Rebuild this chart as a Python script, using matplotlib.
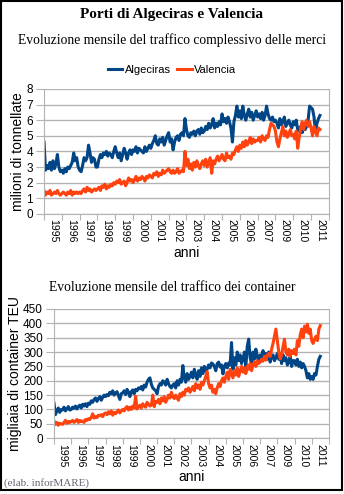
import numpy as np
import matplotlib.pyplot as plt
from matplotlib.patches import Rectangle

# monthly traffic, Jan 1995 onward
alg_tonn = [4.6, 2.8, 3.1, 2.9, 3.3, 2.8, 3.4, 2.9, 3.2, 3.8, 3.0, 2.7,
            2.8, 2.6, 2.9, 2.7, 3.0, 2.9, 3.1, 3.3, 3.9, 3.4, 3.6, 3.0,
            2.8, 2.7, 3.1, 3.6, 3.4, 3.6, 4.4, 3.9, 3.3, 3.6, 3.5, 3.0,
            3.0, 3.5, 3.8, 3.6, 3.9, 3.8, 4.0, 3.7, 3.9, 3.8, 3.6, 4.0,
            4.3, 3.9, 3.6, 3.9, 3.4, 3.8, 4.2, 3.9, 3.5, 3.9, 4.1, 3.8,
            4.1, 4.0, 4.3, 3.9, 4.2, 4.1, 4.0, 3.9, 4.3, 4.0, 4.2, 4.4,
            4.2, 4.5, 4.7, 5.0, 4.5, 4.4, 4.8, 4.6, 4.9, 4.4, 4.7, 5.0,
            5.2, 4.6, 4.8, 4.1, 4.6, 4.9, 5.0, 4.7, 5.1, 5.2, 5.0, 6.1,
            5.4, 5.0, 4.9, 5.2, 5.1, 5.3, 5.0, 5.3, 5.4, 5.1, 5.5, 5.2,
            5.3, 5.6, 5.4, 5.8, 5.5, 5.7, 6.1, 5.5, 5.8, 5.6, 5.9, 5.7,
            6.4, 5.9, 6.1, 5.8, 6.2, 5.9, 5.5, 4.6, 5.9, 6.3, 6.9, 6.2,
            6.6, 6.1, 6.9, 6.3, 6.0, 6.4, 6.7, 6.2, 6.5, 6.0, 6.3, 6.6,
            6.2, 6.4, 6.1, 6.5, 6.0, 6.3, 6.9, 6.4, 6.1, 6.0, 6.2, 5.9,
            6.0, 5.8, 5.5, 6.1, 5.7, 5.9, 6.2, 5.6, 5.8, 6.0, 5.7, 5.5,
            5.9, 5.7, 6.0, 5.4, 5.3, 5.6, 5.2, 5.5, 5.4, 5.6, 6.0, 6.9,
            6.8, 6.7, 6.2, 5.3, 5.8, 6.1, 6.3]

val_tonn = [1.5, 1.2, 1.4, 1.3, 1.5, 1.2, 1.3, 1.4, 1.3, 1.5, 1.3, 1.2,
            1.3, 1.4, 1.3, 1.2, 1.4, 1.3, 1.5, 1.2, 1.4, 1.3, 1.4, 1.3,
            1.4, 1.3, 1.5, 1.6, 1.4, 1.7, 1.5, 1.6, 1.4, 1.5, 1.6, 1.5,
            1.6, 1.7, 1.5, 1.8, 1.7, 1.9, 1.6, 1.8, 1.7, 1.9, 1.8, 2.0,
            1.9, 2.1, 2.0, 2.2, 1.9, 2.0, 2.1, 1.8, 2.0, 2.3, 2.1, 2.2,
            2.0, 2.2, 2.4, 2.1, 2.3, 2.2, 2.4, 2.3, 2.1, 2.4, 2.3, 2.5,
            2.4, 2.3, 2.6, 2.5, 2.7, 2.4, 2.6, 2.5, 2.8, 2.6, 2.7, 2.8,
            2.9, 2.7, 2.6, 2.8, 2.6, 2.7, 2.9, 2.6, 2.7, 2.8, 2.7, 4.0,
            3.1, 3.5, 2.9, 3.2, 2.8, 3.3, 3.0, 3.4, 3.1, 2.9, 3.2, 3.4,
            3.1, 3.5, 3.0, 3.3, 3.6, 2.6, 3.4, 3.2, 3.5, 3.7, 3.4, 3.6,
            3.8, 3.5, 3.4, 3.9, 3.6, 3.7, 3.5, 3.9, 3.8, 4.1, 4.3, 4.0,
            4.4, 4.2, 4.6, 4.3, 4.7, 4.4, 4.6, 4.9, 4.5, 4.8, 4.6, 4.7,
            4.7, 4.9, 4.6, 5.0, 4.8, 4.7, 5.0, 4.9, 5.4, 5.8, 5.7, 5.6,
            5.3, 4.6, 4.3, 4.8, 5.2, 5.6, 5.0, 5.3, 4.9, 5.1, 5.4, 5.0,
            5.1, 4.8, 5.3, 4.2, 4.9, 5.5, 5.9, 5.4, 5.8, 6.0, 5.6, 5.9,
            5.5, 5.0, 5.6, 5.3, 5.0, 5.5, 5.4]

alg_teu = [122, 82, 95, 105, 90, 100, 98, 108, 95, 102, 110, 98,
           100, 108, 104, 112, 102, 110, 115, 105, 118, 112, 120, 110,
           122, 118, 130, 125, 135, 140, 128, 138, 145, 132, 142, 150,
           145, 152, 148, 160, 155, 165, 150, 158, 162, 148, 135, 155,
           158, 165, 152, 170, 160, 145, 162, 168, 155, 170, 165, 175,
           172, 180, 168, 185, 178, 195, 205, 210, 188, 175, 170, 165,
           155, 180, 190, 185, 200, 195, 185, 205, 190, 180, 175, 185,
           190, 175, 200, 185, 205, 195, 253, 210, 195, 225, 205, 215,
           230, 210, 240, 220, 205, 235, 215, 245, 225, 250, 235, 240,
           255, 245, 262, 258, 250, 235, 260, 265, 248, 255, 224, 250,
           260, 245, 262, 255, 333, 240, 280, 255, 300, 270, 290, 260,
           275, 300, 250, 320, 345, 280, 260, 300, 275, 310, 285, 265,
           290, 270, 305, 280, 295, 275, 300, 265, 285, 290, 270, 280,
           295, 275, 285, 260, 290, 270, 280, 255, 265, 285, 250, 270,
           270, 255, 275, 250, 265, 245, 260, 250, 235, 210, 225, 205,
           215, 205, 225, 220, 250, 275, 285]

val_teu = [60, 48, 55, 45, 52, 50, 48, 55, 62, 52, 58, 55,
           58, 62, 55, 60, 65, 55, 62, 58, 60, 55, 65, 62,
           68, 65, 72, 85, 70, 75, 72, 80, 78, 82, 75, 85,
           88, 82, 92, 85, 95, 80, 90, 85, 92, 98, 88, 95,
           100, 95, 105, 110, 98, 108, 100, 112, 105, 146, 102, 110,
           115, 105, 120, 112, 108, 125, 118, 112, 115, 150, 110, 128,
           125, 135, 120, 140, 130, 145, 125, 135, 150, 140, 160, 145,
           138, 150, 140, 132, 155, 145, 160, 150, 170, 165, 175, 160,
           170, 180, 165, 190, 175, 185, 170, 195, 185, 200, 215, 232,
           190, 175, 185, 160, 170, 155, 175, 190, 180, 200, 210, 195,
           215, 230, 205, 240, 225, 210, 235, 220, 245, 215, 235, 250,
           230, 245, 225, 250, 240, 260, 235, 255, 265, 250, 270, 260,
           265, 275, 268, 285, 272, 290, 295, 285, 310, 330, 355, 380,
           340, 300, 276, 290, 320, 345, 300, 290, 310, 285, 305, 295,
           310, 290, 340, 320, 360, 380, 350, 390, 370, 397, 365, 380,
           340, 330, 345, 355, 340, 380, 392]

year_labels = ['1995', '1996', '1997', '1998', '1999', '2000', '2001', '2002',
               '2003', '2004', '2005', '2006', '2007', '2009', '2010', '2011']

BLUE = '#004586'
ORANGE = '#ff420e'
GRID = '#b3b3b3'
SANS = 'Liberation Sans'
SERIF = 'Liberation Serif'

plt.rcParams['font.family'] = SANS

fig = plt.figure(figsize=(3.44, 4.94), dpi=100)


def draw_panel(ax, alg, val, ymax, ystep, ylabel):
    x = np.arange(len(alg))
    ax.plot(x, alg, color=BLUE, lw=2.2, label='Algeciras', solid_joinstyle='round')
    ax.plot(x, val, color=ORANGE, lw=2.2, label='Valencia', solid_joinstyle='round')
    ax.set_xlim(0, 12 * len(year_labels))
    ax.set_ylim(0, ymax)
    ax.set_yticks(np.arange(0, ymax + ystep / 2, ystep))
    ax.yaxis.grid(True, color=GRID, lw=1)
    ax.set_axisbelow(True)
    # year ticks between labels, labels centred in each year
    ax.set_xticks(np.arange(0, 12 * len(year_labels) + 1, 12))
    ax.set_xticklabels([])
    ax.set_xticks(np.arange(6, 12 * len(year_labels), 12), minor=True)
    ax.set_xticklabels(year_labels, minor=True, rotation=-90, fontsize=7.5)
    ax.tick_params(axis='x', which='minor', length=0, pad=4)
    ax.tick_params(axis='x', which='major', length=4, color=GRID)
    ax.tick_params(axis='y', length=6, color=GRID, labelsize=8.5, pad=2)
    for s in ax.spines.values():
        s.set_color(GRID)
    ax.spines['top'].set_visible(False)
    ax.set_ylabel(ylabel, fontsize=10, labelpad=1)
    ax.set_xlabel('anni', fontsize=10, labelpad=2)


ax1 = fig.add_axes([0.128, 0.567, 0.828, 0.253])
draw_panel(ax1, alg_tonn, val_tonn, 8, 1, 'milioni di tonnellate')

ax2 = fig.add_axes([0.157, 0.113, 0.799, 0.2615])
draw_panel(ax2, alg_teu, val_teu, 450, 50, 'migliaia di container TEU')

fig.text(0.5, 0.970, 'Porti di Algeciras e Valencia', ha='center', va='center',
         family=SERIF, fontsize=11, fontweight='bold')
fig.text(0.5, 0.919, 'Evoluzione mensile del traffico complessivo delle merci',
         ha='center', va='center', family=SERIF, fontsize=9.8)
fig.text(0.5, 0.419, 'Evoluzione mensile del traffico dei container',
         ha='center', va='center', family=SERIF, fontsize=9.8)
fig.text(0.012, 0.022, '(elab. inforMARE)', ha='left', va='center',
         family=SERIF, fontsize=8, color='#666677')

handles, labels = ax1.get_legend_handles_labels()
fig.legend(handles, labels, loc='center', bbox_to_anchor=(0.5, 0.858), ncol=2,
           frameon=False, fontsize=8, handlelength=1.3, handletextpad=0.2,
           columnspacing=0.6)

fig.patches.append(Rectangle((0.002, 0.008), 0.992, 0.99, transform=fig.transFigure,
                             fill=False, edgecolor='black', lw=1.5))

fig.savefig('out.png', dpi=100)
